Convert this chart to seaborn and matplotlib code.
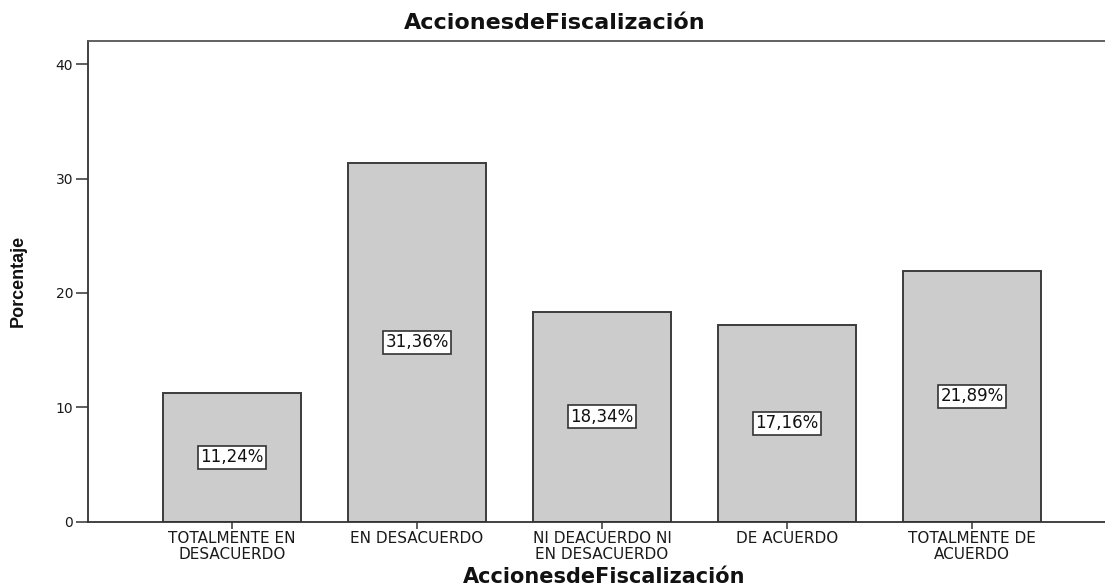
import matplotlib
matplotlib.use("Agg")
import matplotlib.pyplot as plt
import seaborn as sns
import pandas as pd

# Survey responses for "AccionesdeFiscalización" (percent of respondents)
categories = [
    "TOTALMENTE EN DESACUERDO",
    "EN DESACUERDO",
    "NI DEACUERDO NI EN DESACUERDO",
    "DE ACUERDO",
    "TOTALMENTE DE ACUERDO",
]
percentages = [11.24, 31.36, 18.34, 17.16, 21.89]
tick_labels = [
    "TOTALMENTE EN\nDESACUERDO",
    "EN DESACUERDO",
    "NI DEACUERDO NI\nEN DESACUERDO",
    "DE ACUERDO",
    "TOTALMENTE DE\nACUERDO",
]
y_ticks = [0, 10, 20, 30, 40]
title_text = "AccionesdeFiscalización"
y_label = "Porcentaje"

df = pd.DataFrame({"categoria": categories, "porcentaje": percentages})

sns.set_theme(style="white")
plt.rcParams["font.family"] = ["DejaVu Sans"]

W, H = 1105, 587
fig = plt.figure(figsize=(W / 100, H / 100), dpi=100)
ax_left, ax_bottom, ax_top = 88, 521.5, 40.7
ax = fig.add_axes([ax_left / W, (H - ax_bottom) / H,
                   1 - ax_left / W, (ax_bottom - ax_top) / H])

sns.barplot(data=df, x="categoria", y="porcentaje", order=categories,
            color="#cccccc", saturation=1, width=0.75,
            edgecolor="#3c3c3c", linewidth=1.4, ax=ax, errorbar=None)

ax.set_xlim(-0.778, 4.719)
ax.set_ylim(0, 42.06)
ax.set_yticks(y_ticks)
ax.set_yticklabels([str(t) for t in y_ticks])
ax.set_xticks(range(len(categories)))
ax.set_xticklabels(tick_labels, fontsize=11, color="#1a1a1a",
                   linespacing=1.1)

for side in ("left", "bottom", "top"):
    ax.spines[side].set_color("#333333")
    ax.spines[side].set_linewidth(1.3)
ax.spines["right"].set_visible(False)
ax.spines["top"].set_color("#555555")

ax.tick_params(axis="y", direction="out", length=8.6, width=1.1,
               color="#333333", pad=2, labelsize=10, labelcolor="#1a1a1a",
               left=True)
ax.tick_params(axis="x", direction="out", length=5, width=1.1,
               color="#333333", pad=1.5, bottom=True)

# Value labels in white boxes at half bar height
for bar, val in zip(ax.patches, percentages):
    cx = bar.get_x() + bar.get_width() / 2
    ax.text(cx, val / 2, f"{val:.2f}%".replace(".", ","),
            ha="center", va="center", fontsize=12, color="#111111",
            bbox=dict(boxstyle="square,pad=0.15", facecolor="white",
                      edgecolor="#333333", linewidth=1.2))

ax.set_ylabel(y_label, fontsize=13, fontweight="bold",
              family=["Liberation Sans", "DejaVu Sans"], color="#111111")
ax.yaxis.set_label_coords((18 - ax_left) / (W - ax_left), 0.5)
ax.yaxis.label.set_va("center")

ax.set_xlabel(title_text, fontsize=15, fontweight="bold", color="#111111")
ax.xaxis.set_label_coords((604 - ax_left) / (W - ax_left),
                          (ax_bottom - 577) / (ax_bottom - ax_top))
ax.xaxis.label.set_va("center")

fig.text(555 / W, 1 - 23.4 / H, title_text, ha="center", va="center",
         fontsize=16, fontweight="bold", color="#111111")

fig.savefig("out.png", dpi=100, facecolor="white")
